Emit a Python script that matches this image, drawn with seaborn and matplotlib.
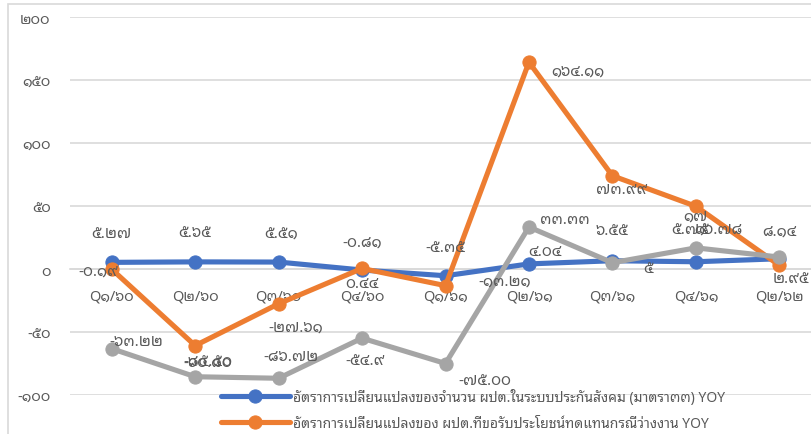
import matplotlib
matplotlib.use("Agg")
import matplotlib.pyplot as plt
import seaborn as sns
from matplotlib.patches import Rectangle

# --- data ---
quarters = ["Q๑/๖๐", "Q๒/๖๐", "Q๓/๖๐", "Q๔/๖๐", "Q๑/๖๑", "Q๒/๖๑", "Q๓/๖๑", "Q๔/๖๑", "Q๒/๖๒"]
insured = [5.27, 5.65, 5.51, -0.81, -5.35, 4.04, 6.55, 5.75, 8.14]
claimants = [-0.19, -60.80, -27.61, 0.44, -13.21, 164.11, 73.99, 49.78, 2.95]
third = [-63.22, -85.50, -86.72, -54.90, -75.00, 33.33, 5.00, 16.78, 9.50]

insured_lbl = ["๕.๒๗", "๕.๖๕", "๕.๕๑", "-๐.๘๑", "-๕.๓๕", "๔.๐๔", "๖.๕๕", "๕.๗๕", "๘.๑๔"]
claimants_lbl = ["-๐.๑๙", "-๖๐.๘๐", "-๒๗.๖๑", "๐.๔๔", "-๑๓.๒๑", "๑๖๔.๑๑", "๗๓.๙๙", "๑๗", "๒.๙๕"]
third_lbl = ["-๖๓.๒๒", "-๘๕.๕๐", "-๘๖.๗๒", "-๕๔.๙", "-๗๕.๐๐", "๓๓.๓๓", "๕", "๑๖.๗๘", ""]

yticks = [-100, -50, 0, 50, 100, 150, 200]
ytick_lbl = ["-๑๐๐", "-๕๐", "๐", "๕๐", "๑๐๐", "๑๕๐", "๒๐๐"]

names = ["อัตราการเปลี่ยนแปลงของจำนวน ผปต.ในระบบประกันสังคม (มาตรา๓๓) YOY",
         "อัตราการเปลี่ยนแปลงของ ผปต.ที่ขอรับประโยชน์ทดแทนกรณีว่างงาน YOY",
         "_nolegend_"]  # third legend row is cut off in the reference

# label offsets in pixels (dx, dy), y up
insured_off = [(0, 28), (0, 28), (2, 28), (0, 28), (0, 27), (16, 12), (0, 29), (-6, 31), (0, 28)]
claimants_off = [(-13, -2), (13, -17), (17, -23), (0, -15), (59, 5), (49, -9), (9, -14), (0, -10), (12, -14)]
third_off = [(25, 7), (13, 14), (12, 22), (3, -23), (39, -18), (36, 8), (36, -7), (22, 19), (0, 0)]

sns.set_theme(style="white")
plt.rcParams["font.family"] = ["Noto Sans Thai Looped", "Noto Sans", "DejaVu Sans"]
txt = "#595959"

fig = plt.figure(figsize=(8.11, 4.35), dpi=100)
# chart-area border (only top and left edges fall inside the picture)
fig.patches.append(Rectangle((8 / 811, -0.1), 1.2, 430 / 435 + 0.1, transform=fig.transFigure,
                             fill=False, edgecolor="#D9D9D9", lw=1.2))
ax = fig.add_axes([70 / 811, (435 - 396) / 435, 751 / 811, 378 / 435])

colors = ["#4472C4", "#ED7D31", "#A5A5A5"]
series = [insured, claimants, third]
labels = [insured_lbl, claimants_lbl, third_lbl]
offsets = [insured_off, claimants_off, third_off]
for vals, c, name, z in zip(series, colors, names, [3, 4, 5]):
    sns.lineplot(x=quarters, y=vals, ax=ax, color=c, lw=3.7, marker="o", markersize=9.5,
                 markeredgecolor=c, label=name, sort=False, zorder=z)

for vals, lbls, offs in zip(series, labels, offsets):
    for i, (v, t, o) in enumerate(zip(vals, lbls, offs)):
        if t:
            ax.annotate(t, (i, v), xytext=o, textcoords="offset pixels", ha="center", va="center",
                        fontsize=11, color=txt, zorder=6)

ax.set_xlim(-0.5, 8.5)
ax.set_ylim(-100, 200)
ax.set_yticks(yticks, ytick_lbl)
ax.grid(axis="y", color="#D9D9D9", lw=1.2)
ax.set_axisbelow(True)
for s in ["top", "right", "left"]:
    ax.spines[s].set_visible(False)
ax.spines["bottom"].set_position(("data", 0))
ax.spines["bottom"].set_color("#D9D9D9")
ax.spines["bottom"].set_linewidth(1.2)
ax.tick_params(axis="x", length=0, pad=14, labelsize=10.5, labelcolor=txt)
ax.tick_params(axis="y", length=0, pad=14, labelsize=10.5, labelcolor=txt)
ax.set_xlabel("")
ax.set_ylabel("")
ax.patch.set_alpha(0)

ax.legend(loc="upper left", bbox_to_anchor=(145 / 751, 12 / 378), frameon=False, fontsize=10,
          labelcolor=txt, handlelength=5.0, handletextpad=0.2, labelspacing=0.8, borderaxespad=0)

fig.savefig("out.png", dpi=100)
